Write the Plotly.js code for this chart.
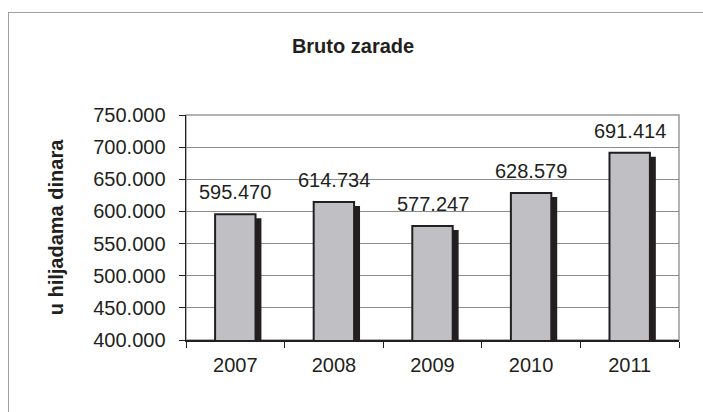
<!DOCTYPE html>
<html>
<head>
<meta charset="utf-8">
<script src="https://cdn.plot.ly/plotly-3.0.1.min.js"></script>
<style>
  html, body { margin: 0; padding: 0; background: #ffffff; overflow: hidden; width: 703px; height: 412px; }
  #frame { position: absolute; left: 8px; top: 12px; width: 800px; height: 500px;
           border: 1px solid #a0a0a0; box-sizing: border-box; }
  #chart { position: absolute; left: 0; top: 0; width: 703px; height: 412px; }
</style>
</head>
<body>
<div id="frame"></div>
<div id="chart"></div>
<script>
// Data
const years = ['2007', '2008', '2009', '2010', '2011'];
const values = [595470, 614734, 577247, 628579, 691414];
const chartTitle = 'Bruto zarade';
const yTitle = 'u hiljadama dinara';

const FONT = 'Liberation Sans, Arial, sans-serif';
const DARK = '#231f20';
const yMin = 400000, yMax = 750000;
// shadow appears a few pixels lower: shift the shadow axis range
const plotH = 225;
const shadowDrop = 4 * (yMax - yMin) / plotH;

const shadow = {
  type: 'bar', x: years, y: values, yaxis: 'y',
  width: 0.41, offset: -0.205 + 0.06,
  marker: { color: DARK, line: { width: 0 } },
  hoverinfo: 'skip', showlegend: false
};
const bars = {
  type: 'bar', x: years, y: values, yaxis: 'y2',
  width: 0.41, offset: -0.205,
  marker: { color: '#c0c0c4', line: { color: DARK, width: 2 } },
  showlegend: false
};

const fmt = v => Math.round(v).toString().replace(/\B(?=(\d{3})+(?!\d))/g, '.');
const annotations = years.map((yr, i) => ({
  x: i, y: values[i], xref: 'x', yref: 'y2',
  text: fmt(values[i]), showarrow: false,
  yanchor: 'bottom', yshift: 9,
  font: { family: FONT, size: 20, color: DARK }
}));

const layout = {
  width: 703, height: 412,
  margin: { l: 186, r: 24, t: 115, b: 72, pad: 0 },
  paper_bgcolor: 'rgba(0,0,0,0)', plot_bgcolor: '#ffffff',
  separators: ',.',
  barmode: 'overlay',
  font: { family: FONT, size: 20, color: DARK },
  title: {
    text: '<b>' + chartTitle + '</b>',
    font: { family: FONT, size: 20, color: DARK },
    xref: 'container', yref: 'container',
    x: 353 / 703, y: 1 - 46 / 412, xanchor: 'center', yanchor: 'middle'
  },
  xaxis: {
    type: 'category', categoryorder: 'array', categoryarray: years,
    range: [-0.5, years.length - 0.5], autorange: false,
    showline: true, linecolor: DARK, linewidth: 1.5,
    ticks: 'outside', tickson: 'boundaries', ticklen: 6, tickcolor: DARK, tickwidth: 1,
    tickfont: { family: FONT, size: 20, color: DARK }, tickangle: 0, ticklabelstandoff: 6,
    showgrid: false, zeroline: false, fixedrange: true
  },
  yaxis: {
    range: [yMin + shadowDrop, yMax + shadowDrop], autorange: false,
    showgrid: false, showticklabels: false, showline: false, ticks: '', zeroline: false,
    fixedrange: true
  },
  yaxis2: {
    overlaying: 'y', side: 'left', anchor: 'x',
    range: [yMin, yMax], autorange: false, dtick: 50000, tickformat: ',.0f',
    showgrid: true, gridcolor: '#8c8c8c', gridwidth: 1,
    showline: true, linecolor: DARK, linewidth: 1.5,
    ticks: 'outside', ticklen: 6, tickcolor: DARK, tickwidth: 1,
    tickfont: { family: FONT, size: 20, color: DARK }, ticklabelstandoff: 9,
    zeroline: false, fixedrange: true,
    title: { text: '<b>' + yTitle + '</b>', font: { family: FONT, size: 20, color: DARK }, standoff: 24 }
  },
  shapes: [{
    type: 'rect', xref: 'paper', yref: 'paper', x0: 0, x1: 1, y0: 0, y1: 1,
    line: { color: '#999999', width: 1.5 }, layer: 'below'
  }],
  annotations: annotations
};

Plotly.newPlot('chart', [shadow, bars], layout, { displayModeBar: false, staticPlot: true });
</script>
</body>
</html>
